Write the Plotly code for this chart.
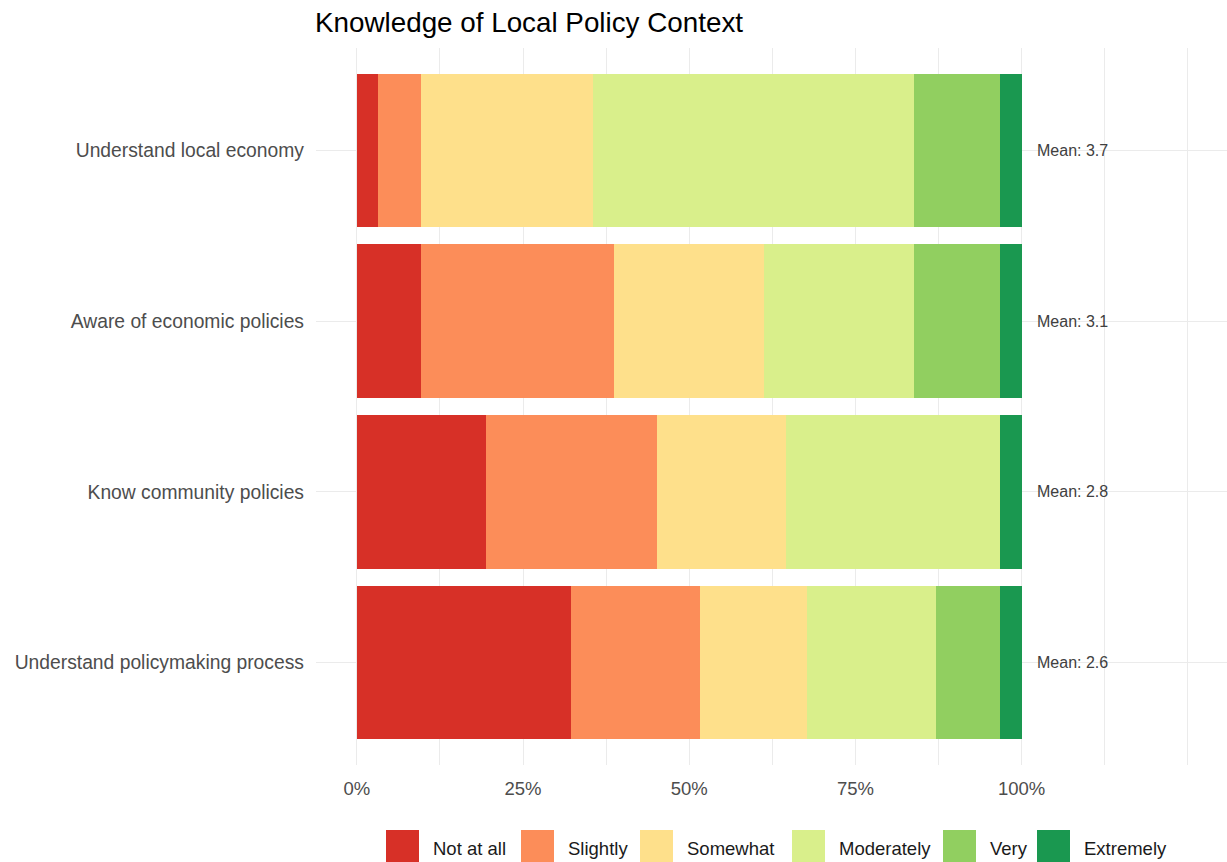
import plotly.graph_objects as go

# ---- data ----
categories = ["Understand local economy", "Aware of economic policies",
              "Know community policies", "Understand policymaking process"]
levels = ["Not at all", "Slightly", "Somewhat", "Moderately", "Very", "Extremely"]
not_at_all = [1, 3, 6, 10]
slightly = [2, 9, 8, 6]
somewhat = [8, 7, 6, 5]
moderately = [15, 7, 10, 6]
very = [4, 4, 0, 3]
extremely = [1, 1, 1, 1]
mean_scores = [3.7, 3.1, 2.8, 2.6]
x_tick_vals = [0, 0.25, 0.5, 0.75, 1.0]
x_tick_text = ["0%", "25%", "50%", "75%", "100%"]

# ---- styles ----
colors = ["#d73027", "#fc8d59", "#fee08b", "#d9ef8b", "#91cf60", "#1a9850"]
FONT = "Liberation Sans, Arial, sans-serif"
W, H = 1227, 862
PL, PR, PT, PB = 316, 1227, 48, 765  # panel edges in px

series = [not_at_all, slightly, somewhat, moderately, very, extremely]
totals = [sum(s[i] for s in series) for i in range(len(categories))]

fig = go.Figure()
for lvl, vals, col in zip(levels, series, colors):
    fig.add_trace(go.Bar(
        y=categories, x=[v / t for v, t in zip(vals, totals)],
        orientation="h", name=lvl, width=0.9,
        marker=dict(color=col, line=dict(width=0)),
        showlegend=False,
    ))

# Mean labels
for cat, m in zip(categories, mean_scores):
    fig.add_annotation(x=1.02, y=cat, xref="x", yref="y", text=f"Mean: {m:.1f}",
                       showarrow=False, xanchor="left", yanchor="middle",
                       font=dict(family=FONT, size=16, color="#404040"))

# Gridlines (major + minor, ggplot style)
grid_vals = [i * 0.125 for i in range(11)]
grid_text = [x_tick_text[x_tick_vals.index(v)] if v in x_tick_vals else "" for v in grid_vals]

def px_to_paper_x(p):
    return (p - PL) / (PR - PL)

def px_to_paper_y(p):
    return (PB - p) / (PB - PT)

# Custom legend (ggplot-like square keys)
key_left = [386, 521, 640, 792, 943, 1037]
for lvl, col, kl in zip(levels, colors, key_left):
    fig.add_shape(type="rect", xref="paper", yref="paper",
                  x0=px_to_paper_x(kl), x1=px_to_paper_x(kl + 33),
                  y0=px_to_paper_y(863), y1=px_to_paper_y(830),
                  fillcolor=col, line=dict(width=0), layer="above")
    fig.add_annotation(xref="paper", yref="paper", x=px_to_paper_x(kl + 45),
                       y=px_to_paper_y(848), text=lvl, showarrow=False,
                       xanchor="left", yanchor="middle",
                       font=dict(family=FONT, size=18.5, color="#1a1a1a"))

fig.update_layout(
    width=W, height=H,
    barmode="stack",
    plot_bgcolor="white", paper_bgcolor="white",
    margin=dict(l=PL, r=W - PR, t=PT, b=H - PB, pad=0),
    title=dict(text="Knowledge of Local Policy Context", x=315 / W, xref="container",
               xanchor="left", y=1 - 22 / H, yref="container", yanchor="middle",
               font=dict(family=FONT, size=27.8, color="black")),
    font=dict(family=FONT),
    showlegend=False,
)
fig.update_xaxes(range=[-0.0615, 1.309], tickmode="array", tickvals=grid_vals,
                 ticktext=grid_text, showgrid=True, gridcolor="#ebebeb", gridwidth=1,
                 zeroline=False, showline=False, ticks="", ticklabelstandoff=10,
                 tickfont=dict(family=FONT, size=18.5, color="#4d4d4d"))
fig.update_yaxes(categoryorder="array", categoryarray=categories, range=[3.6, -0.6],
                 showgrid=True, gridcolor="#ebebeb", gridwidth=1, zeroline=False,
                 showline=False, ticks="", ticklabelstandoff=11,
                 tickfont=dict(family=FONT, size=19.3, color="#4d4d4d"))

fig.write_html("out.html", config={"displayModeBar": False},
               post_script="document.body.style.margin='0';document.body.style.overflow='hidden';")
